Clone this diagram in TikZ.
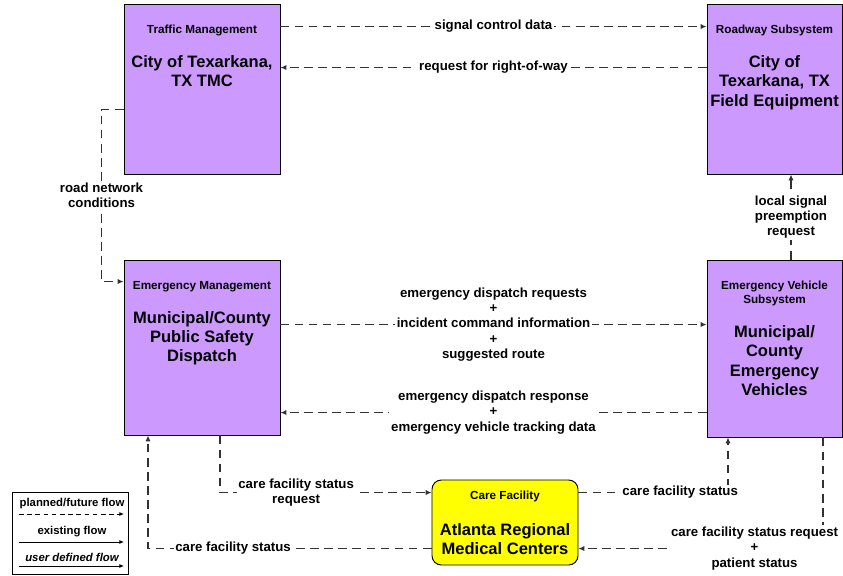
\documentclass[tikz,border=0pt]{standalone}
\usepackage{fontspec}
\setmainfont{Liberation Sans}
\usetikzlibrary{arrows.meta,positioning}
\definecolor{SysPurple}{RGB}{204,153,255}
\definecolor{CareYellow}{RGB}{255,255,0}
\definecolor{FlowGray}{RGB}{50,50,50}
\tikzset{
  sysbox/.style={draw=black,fill=SysPurple,line width=0.8pt,minimum width=4.68cm,
    minimum height=5.1cm},
  narrowbox/.style={sysbox,minimum width=4.05cm},
  carebox/.style={draw=black,fill=CareYellow,line width=0.8pt,rounded corners=8pt,
    minimum width=4.38cm,minimum height=2.55cm},
  hdr/.style={font=\fontsize{10}{11.9}\selectfont\bfseries,align=center,inner sep=0pt},
  ttl/.style={font=\fontsize{14.1}{16.6}\selectfont\bfseries,align=center,inner sep=0pt},
  flowlabel/.style={font=\fontsize{11.3}{13.1}\selectfont\bfseries,align=center,
    text=black,fill=white,inner sep=1.5pt},
  flow/.style={-{Latex[length=5pt,width=4.5pt]},FlowGray,line width=1.1pt,
    dash pattern=on 7.5pt off 4.5pt},
  legbox/.style={draw=black,line width=0.6pt,minimum width=3.48cm,minimum height=2.46cm},
  legtext/.style={font=\fontsize{9.7}{11}\selectfont\bfseries,inner sep=0pt},
  legarrow/.style={-{Latex[length=4pt,width=3.5pt]},black,line width=0.8pt}
}
\begin{document}
\begin{tikzpicture}[x=0.03cm,y=0.03cm,node distance=0.56cm]
  \useasboundingbox (0,0) rectangle (843,575);

  % subsystems, top row
  \node[sysbox] (tmc) at (202,486) {};
  \node[hdr,below=0.65cm of tmc.north] (tmc-h) {Traffic Management};
  \node[ttl,below=of tmc-h] (tmc-t) {City of Texarkana,\\TX TMC};

  \node[narrowbox] (rw) at (774.5,486) {};
  \node[hdr,below=0.65cm of rw.north] (rw-h) {Roadway Subsystem};
  \node[ttl,below=of rw-h] (rw-t) {City of\\Texarkana, TX\\Field Equipment};

  % subsystems, middle row
  \node[sysbox,minimum height=5.25cm] (em) at (202,227.5) {};
  \node[hdr,below=0.65cm of em.north] (em-h) {Emergency Management};
  \node[ttl,below=of em-h] (em-t) {Municipal/County\\Public Safety\\Dispatch};

  \node[narrowbox,minimum height=5.31cm] (ev) at (774.5,226.5) {};
  \node[hdr,below=0.65cm of ev.north] (ev-h) {Emergency Vehicle\\Subsystem};
  \node[ttl,below=of ev-h] (ev-t) {Municipal/\\County\\Emergency\\Vehicles};

  % care facility
  \node[carebox] (cf) at (505,52.5) {};
  \node[hdr,below=0.35cm of cf.north] (cf-h) {Care Facility};
  \node[ttl,below=0.62cm of cf-h] (cf-t) {Atlanta Regional\\Medical Centers};

  % flows
  \draw[flow] ([yshift=-0.69cm]tmc.north east) -- node[flowlabel]{signal control data} ([yshift=-0.69cm]rw.north west);
  \draw[flow] ([yshift=-1.92cm]rw.north west) -- node[flowlabel]{request for right-of-way} ([yshift=-1.92cm]tmc.north east);
  \draw[flow] ([yshift=-3.18cm]tmc.north west) -- ++(-22,0) |- node[flowlabel,pos=0.25]{road network\\conditions} ([yshift=-0.66cm]em.north west);
  \draw[flow] ([xshift=0.495cm]ev.north) -- node[flowlabel]{local signal\\preemption\\request} ([xshift=0.495cm]rw.south);
  \draw[flow] ([yshift=-1.95cm]em.north east) -- node[flowlabel]{emergency dispatch requests\\+\\incident command information\\+\\suggested route} ([yshift=-1.95cm]ev.north west);
  \draw[flow] ([yshift=-4.59cm]ev.north west) -- node[flowlabel]{emergency dispatch response\\+\\emergency vehicle tracking data} ([yshift=-4.59cm]em.north east);
  \draw[flow] ([xshift=0.54cm]em.south) |- node[flowlabel,pos=0.68]{care facility status\\request} ([yshift=-0.39cm]cf.north west);
  \draw[flow] ([yshift=-2.07cm]cf.north west) -| node[flowlabel,pos=0.35]{care facility status} ([xshift=-1.62cm]em.south);
  \draw[flow] ([yshift=-0.39cm]cf.north east) -| node[flowlabel,pos=0.34]{care facility status} ([xshift=-1.395cm]ev.south);
  \draw[flow] ([xshift=1.455cm]ev.south) |- node[flowlabel,pos=0.64]{care facility status request\\+\\patient status} ([yshift=-2.07cm]cf.north east);

  % legend
  \node[legbox] (leg) at (70,42) {};
  \node[legtext] (leg-plan) at (72,71) {planned/future flow};
  \node[legtext] (leg-exist) at (72,43) {existing flow};
  \node[legtext,font=\fontsize{9.7}{11}\selectfont\bfseries\itshape] (leg-user) at (72,18) {user defined flow};
  \coordinate (lp-a) at (19,61); \coordinate (lp-b) at (124,61);
  \coordinate (le-a) at (19,33); \coordinate (le-b) at (124,33);
  \coordinate (lu-a) at (19,9);  \coordinate (lu-b) at (124,9);
  \draw[legarrow,dash pattern=on 4pt off 3pt] (lp-a) -- (lp-b);
  \draw[legarrow] (le-a) -- (le-b);
  \draw[legarrow] (lu-a) -- (lu-b);
\end{tikzpicture}
\end{document}
